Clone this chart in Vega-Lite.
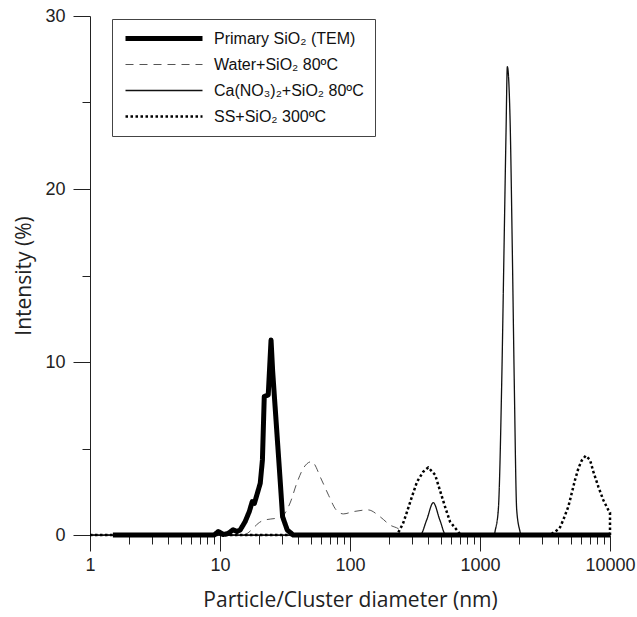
{
  "$schema": "https://vega.github.io/schema/vega-lite/v6.json",
  "autosize": {"type": "none"},
  "padding": {"left": 90, "top": 16, "right": 27, "bottom": 82},
  "width": 520,
  "height": 519,
  "background": "white",
  "config": {"view": {"stroke": null}},
  "data": {"values": [
    {"s": "P", "i": 1, "d": 1.5, "v": 0},
    {"s": "P", "i": 2, "d": 9.0, "v": 0},
    {"s": "P", "i": 3, "d": 9.7, "v": 0.2},
    {"s": "P", "i": 4, "d": 10.6, "v": 0.03},
    {"s": "P", "i": 5, "d": 11.5, "v": 0.08},
    {"s": "P", "i": 6, "d": 12.6, "v": 0.3},
    {"s": "P", "i": 7, "d": 13.5, "v": 0.2},
    {"s": "P", "i": 8, "d": 14.3, "v": 0.29},
    {"s": "P", "i": 9, "d": 15.6, "v": 0.77},
    {"s": "P", "i": 10, "d": 16.8, "v": 1.35},
    {"s": "P", "i": 11, "d": 17.7, "v": 1.93},
    {"s": "P", "i": 12, "d": 18.4, "v": 1.83},
    {"s": "P", "i": 13, "d": 20.4, "v": 2.99},
    {"s": "P", "i": 14, "d": 21.2, "v": 4.34},
    {"s": "P", "i": 15, "d": 21.9, "v": 8.0},
    {"s": "P", "i": 16, "d": 23.5, "v": 8.1},
    {"s": "P", "i": 17, "d": 24.7, "v": 11.27},
    {"s": "P", "i": 18, "d": 25.4, "v": 9.5},
    {"s": "P", "i": 19, "d": 29.0, "v": 3.2},
    {"s": "P", "i": 20, "d": 30.3, "v": 1.06},
    {"s": "P", "i": 21, "d": 32.9, "v": 0.29},
    {"s": "P", "i": 22, "d": 36.6, "v": 0},
    {"s": "P", "i": 23, "d": 10000, "v": 0},

    {"s": "W", "i": 1, "d": 1, "v": 0},
    {"s": "W", "i": 2, "d": 15, "v": 0},
    {"s": "W", "i": 3, "d": 20.9, "v": 0.8},
    {"s": "W", "i": 4, "d": 29.8, "v": 1.06},
    {"s": "W", "i": 5, "d": 34.6, "v": 1.85},
    {"s": "W", "i": 6, "d": 39.0, "v": 3.0},
    {"s": "W", "i": 7, "d": 43.7, "v": 3.85},
    {"s": "W", "i": 8, "d": 50.6, "v": 4.24},
    {"s": "W", "i": 9, "d": 60.5, "v": 3.18},
    {"s": "W", "i": 10, "d": 68.4, "v": 2.3},
    {"s": "W", "i": 11, "d": 78.3, "v": 1.45},
    {"s": "W", "i": 12, "d": 89, "v": 1.22},
    {"s": "W", "i": 13, "d": 106, "v": 1.35},
    {"s": "W", "i": 14, "d": 138, "v": 1.45},
    {"s": "W", "i": 15, "d": 170, "v": 1.06},
    {"s": "W", "i": 16, "d": 203, "v": 0.58},
    {"s": "W", "i": 17, "d": 242, "v": 0.3},
    {"s": "W", "i": 18, "d": 264, "v": 0},
    {"s": "W", "i": 19, "d": 10000, "v": 0},

    {"s": "C", "i": 1, "d": 1, "v": 0},
    {"s": "C", "i": 2, "d": 346, "v": 0},
    {"s": "C", "i": 3, "d": 389, "v": 0.87},
    {"s": "C", "i": 4, "d": 437, "v": 1.87},
    {"s": "C", "i": 5, "d": 491, "v": 0.87},
    {"s": "C", "i": 6, "d": 547, "v": 0},
    {"s": "C", "i": 7, "d": 1290, "v": 0},
    {"s": "C", "i": 8, "d": 1305, "v": 0.2},
    {"s": "C", "i": 9, "d": 1383, "v": 1.45},
    {"s": "C", "i": 10, "d": 1469, "v": 8.8},
    {"s": "C", "i": 11, "d": 1530, "v": 16.5},
    {"s": "C", "i": 12, "d": 1585, "v": 23.2},
    {"s": "C", "i": 13, "d": 1623, "v": 27.07},
    {"s": "C", "i": 14, "d": 1701, "v": 24.2},
    {"s": "C", "i": 15, "d": 1772, "v": 16.5},
    {"s": "C", "i": 16, "d": 1835, "v": 8.8},
    {"s": "C", "i": 17, "d": 1916, "v": 1.45},
    {"s": "C", "i": 18, "d": 2031, "v": 0.2},
    {"s": "C", "i": 19, "d": 2060, "v": 0},
    {"s": "C", "i": 20, "d": 10000, "v": 0},

    {"s": "S", "i": 1, "d": 1, "v": 0},
    {"s": "S", "i": 2, "d": 230, "v": 0},
    {"s": "S", "i": 3, "d": 256, "v": 0.67},
    {"s": "S", "i": 4, "d": 272, "v": 1.25},
    {"s": "S", "i": 5, "d": 299, "v": 2.2},
    {"s": "S", "i": 6, "d": 328, "v": 3.08},
    {"s": "S", "i": 7, "d": 366, "v": 3.66},
    {"s": "S", "i": 8, "d": 400, "v": 3.91},
    {"s": "S", "i": 9, "d": 452, "v": 3.47},
    {"s": "S", "i": 10, "d": 491, "v": 2.6},
    {"s": "S", "i": 11, "d": 538, "v": 1.64},
    {"s": "S", "i": 12, "d": 588, "v": 0.77},
    {"s": "S", "i": 13, "d": 680, "v": 0.19},
    {"s": "S", "i": 14, "d": 710, "v": 0},
    {"s": "S", "i": 15, "d": 3470, "v": 0},
    {"s": "S", "i": 16, "d": 4096, "v": 0.39},
    {"s": "S", "i": 17, "d": 4370, "v": 0.87},
    {"s": "S", "i": 18, "d": 4780, "v": 1.64},
    {"s": "S", "i": 19, "d": 5075, "v": 2.41},
    {"s": "S", "i": 20, "d": 5380, "v": 3.18},
    {"s": "S", "i": 21, "d": 5710, "v": 3.85},
    {"s": "S", "i": 22, "d": 6055, "v": 4.3},
    {"s": "S", "i": 23, "d": 6500, "v": 4.58},
    {"s": "S", "i": 24, "d": 7017, "v": 4.34},
    {"s": "S", "i": 25, "d": 7446, "v": 3.66},
    {"s": "S", "i": 26, "d": 8130, "v": 2.8},
    {"s": "S", "i": 27, "d": 8880, "v": 2.02},
    {"s": "S", "i": 28, "d": 9700, "v": 1.45},
    {"s": "S", "i": 29, "d": 10000, "v": 1.3},
    {"s": "S", "i": 30, "d": 10000, "v": 0}
  ]},
  "encoding": {
    "x": {
      "field": "d", "type": "quantitative",
      "scale": {"type": "log", "domain": [1, 10000]},
      "axis": {
        "title": "Particle/Cluster diameter (nm)",
        "titleFont": "Open Sans", "titleFontSize": 21, "titleFontWeight": "normal", "titleColor": "#222",
        "titlePadding": 15,
        "values": [1,2,3,4,5,6,7,8,9,10,20,30,40,50,60,70,80,90,100,200,300,400,500,600,700,800,900,1000,2000,3000,4000,5000,6000,7000,8000,9000,10000],
        "format": "d",
        "labelExpr": "indexof([1,10,100,1000,10000], datum.value) >= 0 ? datum.label : ''",
        "labelFont": "Liberation Sans", "labelFontSize": 18, "labelColor": "#222",
        "labelPadding": 5, "labelFlush": false, "labelOverlap": false,
        "tickSize": {"condition": {"test": "indexof([1,10,100,1000,10000], datum.value) >= 0", "value": 16}, "value": 9},
        "tickColor": "#222", "tickWidth": 1,
        "domainColor": "#222", "domainWidth": 1,
        "grid": false
      }
    },
    "y": {
      "field": "v", "type": "quantitative",
      "scale": {"domain": [0, 30], "nice": false, "zero": true},
      "axis": {
        "title": "Intensity (%)",
        "titleFont": "Open Sans", "titleFontSize": 21, "titleFontWeight": "normal", "titleColor": "#222",
        "titlePadding": 10,
        "values": [0, 5, 10, 15, 20, 25, 30],
        "labelExpr": "datum.value % 10 === 0 ? datum.label : ''",
        "labelFont": "Liberation Sans", "labelFontSize": 18, "labelColor": "#222",
        "labelPadding": 8, "labelFlush": false, "labelOverlap": false,
        "tickSize": {"condition": {"test": "datum.value % 10 === 0", "value": 17}, "value": 8},
        "tickColor": "#222", "tickWidth": 1,
        "domainColor": "#222", "domainWidth": 1,
        "grid": false
      }
    },
    "order": {"field": "i", "type": "quantitative"},
    "color": {
      "field": "s", "type": "nominal",
      "scale": {"domain": ["P", "W", "C", "S"], "range": ["#000000", "#555555", "#111111", "#000000"]},
      "legend": {
        "orient": "none", "legendX": 22, "legendY": 3,
        "title": null,
        "labelExpr": "datum.value === 'P' ? 'Primary SiO₂ (TEM)' : datum.value === 'W' ? 'Water+SiO₂ 80ºC' : datum.value === 'C' ? 'Ca(NO₃)₂+SiO₂ 80ºC' : 'SS+SiO₂ 300ºC'",
        "labelFont": "Liberation Sans", "labelFontSize": 16, "labelColor": "#111",
        "symbolType": "stroke", "symbolSize": 5929, "labelOffset": 9,
        "clipHeight": 17,
        "rowPadding": 9,
        "padding": 11,
        "fillColor": "white", "strokeColor": "#444"
      }
    },
    "strokeDash": {
      "field": "s", "type": "nominal",
      "scale": {"type": "ordinal", "domain": ["P", "W", "C", "S"], "range": [[1, 0], [8, 6], [1, 0], [2.5, 2.5]]},
      "legend": null
    },
    "strokeWidth": {
      "field": "s", "type": "nominal",
      "scale": {"type": "ordinal", "domain": ["P", "W", "C", "S"], "range": [5, 1, 1.3, 2.5]},
      "legend": null
    }
  },
  "layer": [
    {"transform": [{"filter": "datum.s === 'W' || datum.s === 'C'"}], "mark": {"type": "line", "interpolate": "monotone", "strokeCap": "butt", "clip": false}},
    {"transform": [{"filter": "datum.s === 'S' || datum.s === 'P'"}], "mark": {"type": "line", "interpolate": "linear", "strokeCap": "butt", "strokeJoin": "round", "clip": false}}
  ]
}
